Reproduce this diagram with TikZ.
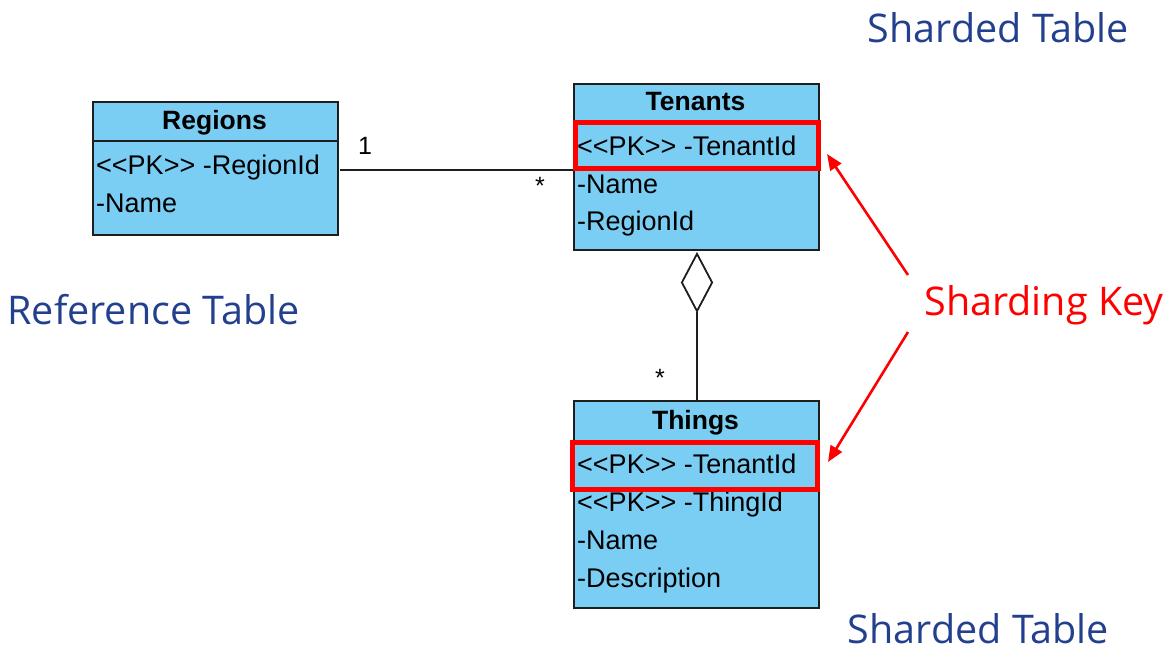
\documentclass[tikz,border=0pt]{standalone}
\usepackage{fontspec}
\setmainfont{Liberation Sans}
\newfontfamily\labelfont{Open Sans}
\usetikzlibrary{shapes.geometric,arrows.meta}
\definecolor{tablefill}{RGB}{122,206,244}
\definecolor{tableline}{RGB}{30,30,30}
\definecolor{notecolor}{RGB}{35,64,143}
\definecolor{keyred}{RGB}{255,0,0}
\newcommand{\stereo}[1]{<{}<#1>{}>}
\tikzset{
  tablebox/.style={draw=tableline, fill=tablefill, line width=1.8pt, inner sep=0pt, anchor=north west},
  tabletitle/.style={font=\fontsize{26.5}{26.5}\selectfont\bfseries, inner sep=0pt, anchor=base},
  tablerow/.style={font=\fontsize{27}{27}\selectfont, inner sep=0pt, anchor=base west},
  keyframe/.style={draw=keyred, line width=4.5pt},
  mult/.style={font=\fontsize{25}{25}\selectfont, inner sep=0pt},
  note/.style={font=\labelfont\fontsize{39.5}{39.5}\selectfont, text=notecolor, inner sep=0pt, anchor=base},
  keynote/.style={font=\labelfont\fontsize{39.5}{39.5}\selectfont, text=keyred, inner sep=0pt, anchor=base},
  keyarrow/.style={draw=keyred, line width=2.6pt, -{Triangle[length=16pt,width=13pt]}},
  assoc/.style={draw=tableline, line width=1.8pt},
  aggdiamond/.style={diamond, draw=tableline, fill=white, line width=1.8pt, inner sep=0pt, minimum width=31pt, minimum height=58pt}
}
\begin{document}
\begin{tikzpicture}[x=1pt,y=-1pt]
\useasboundingbox (0,0) rectangle (1168,652);

% Regions table
\node[tablebox, minimum width=245pt, minimum height=133pt] (regions) at (92,101) {};
\draw[tableline, line width=1.8pt] (92,141) -- (337,141);
\node[tabletitle] (regtitle) at (214.5,130) {Regions};
\node[tablerow] (regpk) at (96,175) {\stereo{PK} -RegionId};
\node[tablerow] (regname) at (96,213) {-Name};

% Tenants table
\node[tablebox, minimum width=245pt, minimum height=166pt] (tenants) at (573,83) {};
\draw[tableline, line width=1.8pt] (573,122) -- (818,122);
\node[tabletitle] (tentitle) at (695.5,111) {Tenants};
\node[tablerow] (tenpk) at (577,156) {\stereo{PK} -TenantId};
\node[tablerow] (tenname) at (577,194) {-Name};
\node[tablerow] (tenreg) at (577,231) {-RegionId};
\draw[keyframe] (575.5,122.5) rectangle (818.5,168.5);

% Things table
\node[tablebox, minimum width=245pt, minimum height=207pt] (things) at (573,400) {};
\draw[tableline, line width=1.8pt] (573,441) -- (818,441);
\node[tabletitle] (thingtitle) at (695.5,429) {Things};
\node[tablerow] (thingpk) at (577,473) {\stereo{PK} -TenantId};
\node[tablerow] (thingid) at (577,511) {\stereo{PK} -ThingId};
\node[tablerow] (thingname) at (577,549) {-Name};
\node[tablerow] (thingdesc) at (577,587) {-Description};
\draw[keyframe] (572.5,442.5) rectangle (817.5,489.5);

% Association Regions 1 -- * Tenants
\coordinate (assocA) at (340,170);
\draw[assoc] (assocA) -- (assocA -| tenants.west);
\node[mult] (multone) at (365,146) {1};
\node[mult] (multmany) at (540,186) {*};

% Aggregation Tenants <>-- Things
\node[aggdiamond] (agg) at (697,282.5) {};
\draw[assoc] (agg.south) -- (agg.south |- things.north);
\node[mult] (multthings) at (660,378) {*};

% Notes
\node[note] (sharedtop) at (998.5,43) {Sharded Table};
\node[note] (sharedbot) at (978.5,643) {Sharded Table};
\node[note] (reftable) at (153.5,325) {Reference Table};
\node[keynote] (shardkey) at (1044,316) {Sharding Key};

\coordinate (keyup) at (908,275);
\coordinate (keydown) at (908,332);
\coordinate (tipup) at (827,154);
\coordinate (tipdown) at (828,462);
\draw[keyarrow] (keyup) -- (tipup);
\draw[keyarrow] (keydown) -- (tipdown);
\end{tikzpicture}
\end{document}
